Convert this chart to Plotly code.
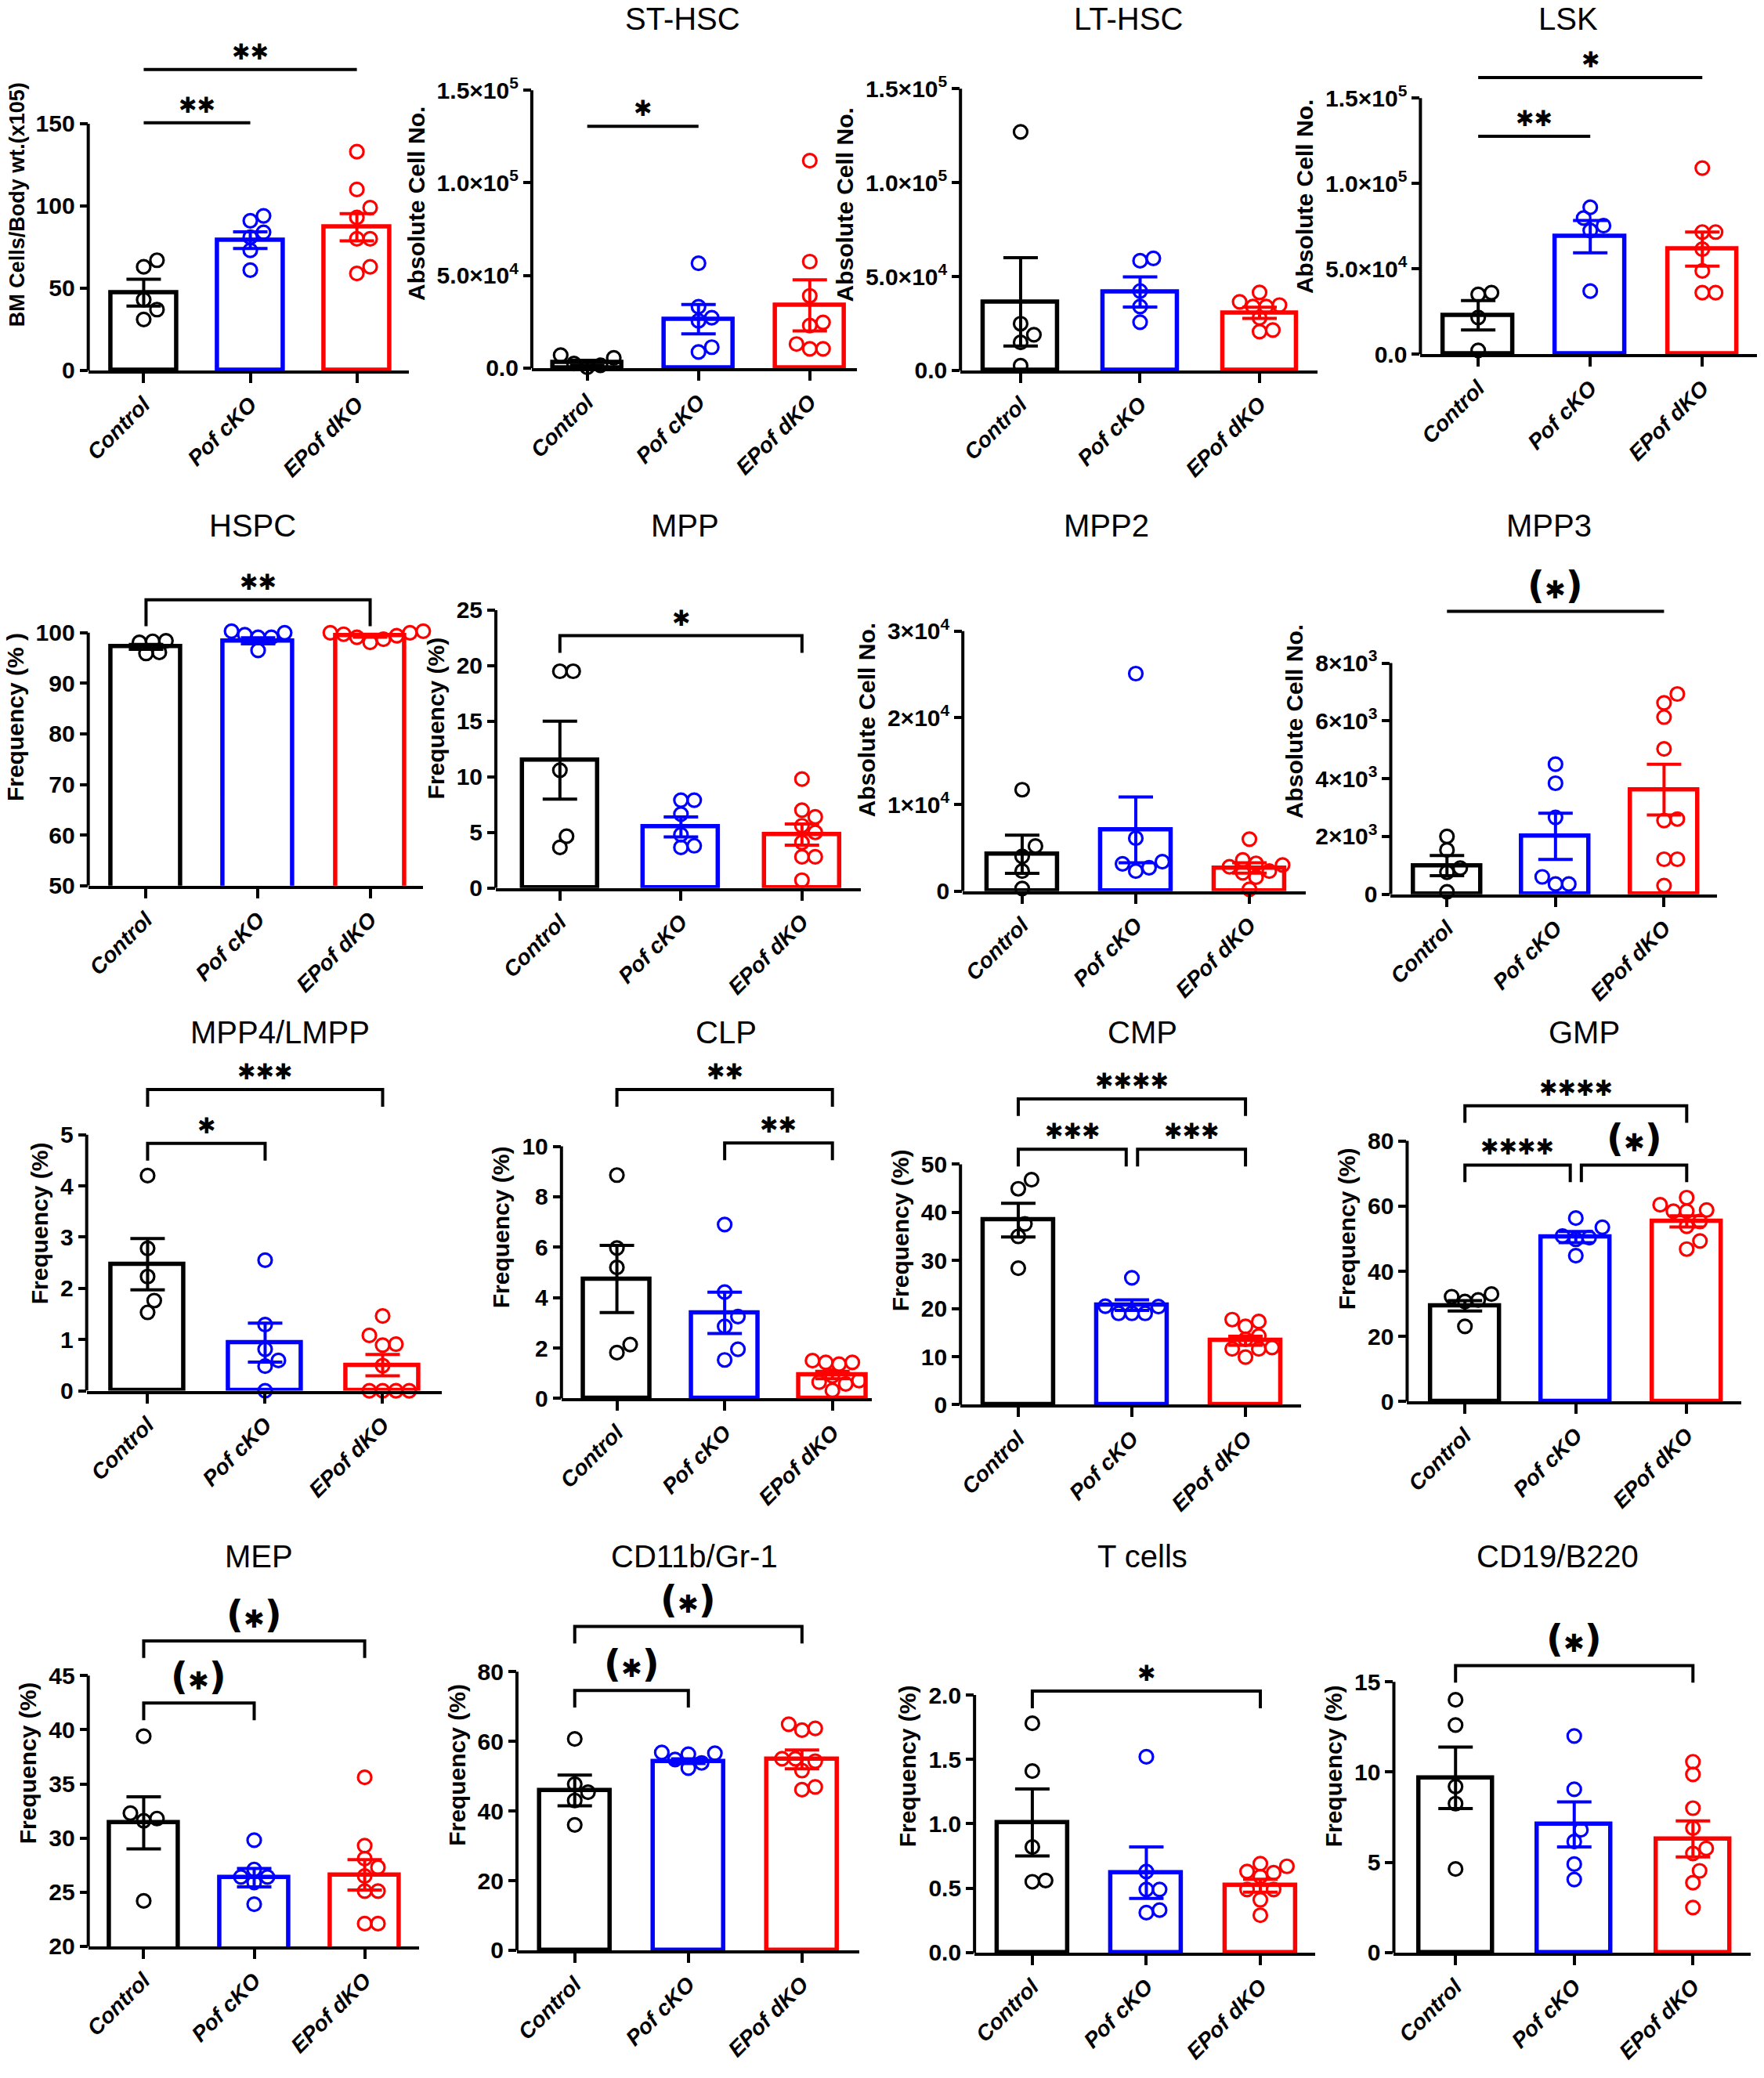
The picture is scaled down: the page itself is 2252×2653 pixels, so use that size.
import plotly.graph_objects as go

W, H = 2252, 2653
FONT = "Liberation Sans, Arial, sans-serif"
STAR_FONT = "DejaVu Sans, Liberation Sans, sans-serif"

groups = ["Control", "Pof cKO", "EPof dKO"]
colors = ["#000000", "#0000ff", "#ff0000"]

# ---- data ----
bm_ctrl = [63, 67, 43, 37, 31]
bm_pof = [91, 94, 81, 84, 73, 61]
bm_epof = [133, 110, 99, 93, 80, 80, 59, 63]
bm_mean = [47.3, 79.2, 87.1]
bm_sem = [8.2, 5.1, 8.3]

st_ctrl = [500, 7000, 2500, 5500, 1500]
st_pof = [56600, 33100, 27200, 25500, 8700, 11300]
st_epof = [112000, 57500, 39000, 24700, 23000, 10400, 13000, 10400]
st_mean = [2900, 26400, 33900]
st_sem = [1300, 7900, 13800]

lt_ctrl = [127000, 24900, 19000, 14900, 2500]
lt_pof = [58400, 59700, 42300, 34000, 25700]
lt_epof = [41500, 34000, 36500, 34000, 34800, 20700, 21500, 28000]
lt_mean = [36500, 41800, 30700]
lt_sem = [23500, 8000, 3000]

lsk_ctrl = [35000, 36000, 21400, 2200]
lsk_pof = [86000, 79700, 75200, 72400, 36900]
lsk_epof = [109000, 71500, 71500, 61500, 48700, 36000, 36000]
lsk_mean = [22800, 68800, 61500]
lsk_sem = [8600, 9500, 10000]

hspc_ctrl = [96.1, 98.3, 98.1, 98.4, 95.9]
hspc_pof = [99.1, 100.0, 99.1, 99.6, 100.3, 96.5]
hspc_epof = [99.4, 100.0, 100.0, 100.3, 99.7, 98.7, 98.1, 99.1]
hspc_mean = [97.2, 98.4, 99.4]
hspc_sem = [0.5, 0.6, 0.3]

mpp_ctrl = [19.5, 19.5, 10.6, 4.65, 3.65]
mpp_pof = [7.9, 7.9, 6.65, 4.8, 3.65, 3.8]
mpp_epof = [9.8, 7.0, 6.4, 5.6, 5.0, 4.1, 2.8, 2.8, 0.7]
mpp_mean = [11.5, 5.5, 4.8]
mpp_sem = [3.5, 0.9, 0.95]

mpp2_ctrl = [11700, 5200, 4000, 2300, 300]
mpp2_pof = [25100, 6100, 2300, 3400, 2700, 3150]
mpp2_epof = [6000, 3200, 2800, 3000, 3600, 2300, 2100, 1600, 200]
mpp2_mean = [4250, 7070, 2670]
mpp2_sem = [2200, 3800, 600]

mpp3_ctrl = [2000, 1530, 900, 760, 80]
mpp3_pof = [4500, 3840, 2660, 600, 350, 350]
mpp3_epof = [6930, 6620, 6130, 5030, 2600, 2550, 1210, 1210, 300]
mpp3_mean = [990, 2000, 3620]
mpp3_sem = [350, 800, 880]

mpp4_ctrl = [4.2, 2.78, 2.23, 1.76, 1.53]
mpp4_pof = [2.55, 1.29, 0.81, 0.59, 0.48, 0.0]
mpp4_epof = [1.46, 1.08, 0.91, 0.89, 0.49, 0.0, 0.0, 0.0, 0.0]
mpp4_mean = [2.47, 0.94, 0.5]
mpp4_sem = [0.5, 0.38, 0.21]

clp_ctrl = [8.86, 5.97, 5.2, 2.14, 1.82]
clp_pof = [6.9, 4.22, 3.25, 2.86, 1.95, 1.53]
clp_epof = [1.43, 1.5, 1.36, 1.43, 0.65, 0.9, 0.58, 0.71, 0.32]
clp_mean = [4.74, 3.4, 0.93]
clp_sem = [1.33, 0.82, 0.15]

cmp_ctrl = [46.8, 44.9, 37.6, 35.0, 28.4]
cmp_pof = [26.4, 19.0, 20.4, 19.0, 20.5, 19.0]
cmp_epof = [17.3, 17.7, 16.3, 14.3, 13.6, 11.6, 11.9, 11.6, 9.9]
cmp_mean = [38.4, 20.7, 13.3]
cmp_sem = [3.5, 1.1, 0.95]

gmp_ctrl = [33.0, 31.2, 30.7, 32.2, 23.1]
gmp_pof = [56.3, 53.5, 50.3, 50.8, 49.8, 44.8]
gmp_epof = [62.6, 60.4, 58.8, 58.4, 58.4, 55.3, 53.8, 49.3, 46.8]
gmp_mean = [29.4, 50.5, 55.3]
gmp_sem = [1.6, 1.7, 1.7]

mep_ctrl = [39.4, 32.3, 31.6, 31.8, 24.2]
mep_pof = [29.8, 26.4, 27.1, 26.4, 25.9, 23.9]
mep_epof = [35.6, 29.3, 28.1, 27.3, 26.5, 25.1, 25.1, 22.1, 22.1]
mep_mean = [31.4, 26.35, 26.6]
mep_sem = [2.4, 0.85, 1.4]

cd11_ctrl = [60.7, 47.7, 45.4, 43.0, 36.0]
cd11_pof = [54.8, 56.6, 53.8, 56.3, 56.8, 52.3]
cd11_epof = [63.7, 64.9, 63.2, 54.3, 55.0, 55.0, 46.1, 46.9, 51.6]
cd11_mean = [45.9, 54.3, 54.8]
cd11_sem = [4.4, 0.7, 2.7]

t_ctrl = [1.78, 1.41, 0.82, 0.55, 0.56]
t_pof = [1.52, 0.63, 0.49, 0.49, 0.31, 0.33]
t_epof = [0.69, 0.63, 0.67, 0.62, 0.59, 0.49, 0.49, 0.41, 0.29]
t_mean = [1.01, 0.62, 0.52]
t_sem = [0.26, 0.2, 0.05]

cd19_ctrl = [14.0, 12.6, 9.2, 8.25, 4.63]
cd19_pof = [12.0, 9.05, 6.8, 6.15, 4.9, 4.05]
cd19_epof = [10.57, 9.87, 8.0, 6.9, 5.77, 5.49, 4.53, 3.87, 2.5]
cd19_mean = [9.68, 7.1, 6.3]
cd19_sem = [1.7, 1.25, 1.0]

# tick values / labels
bm_ticks = [0, 50, 100, 150]
hsc_ticks = [0, 50000, 100000, 150000]
hsc_text = ["0.0", "5.0×10<sup>4</sup>", "1.0×10<sup>5</sup>", "1.5×10<sup>5</sup>"]
hspc_ticks = [50, 60, 70, 80, 90, 100]
mpp_ticks = [0, 5, 10, 15, 20, 25]
mpp2_ticks = [0, 10000, 20000, 30000]
mpp2_text = ["0", "1×10<sup>4</sup>", "2×10<sup>4</sup>", "3×10<sup>4</sup>"]
mpp3_ticks = [0, 2000, 4000, 6000, 8000]
mpp3_text = ["0", "2×10<sup>3</sup>", "4×10<sup>3</sup>", "6×10<sup>3</sup>", "8×10<sup>3</sup>"]
mpp4_ticks = [0, 1, 2, 3, 4, 5]
clp_ticks = [0, 2, 4, 6, 8, 10]
cmp_ticks = [0, 10, 20, 30, 40, 50]
gmp_ticks = [0, 20, 40, 60, 80]
mep_ticks = [20, 25, 30, 35, 40, 45]
cd11_ticks = [0, 20, 40, 60, 80]
t_ticks = [0, 0.5, 1.0, 1.5, 2.0]
t_text = ["0.0", "0.5", "1.0", "1.5", "2.0"]
cd19_ticks = [0, 5, 10, 15]

# significance brackets: (from group, to group, height, label, end ticks)
bm_sig = [(0, 1, 150.6, "**", False), (0, 2, 183, "**", False)]
st_sig = [(0, 1, 130600, "*", False)]
lsk_sig = [(0, 1, 127600, "**", False), (0, 2, 162000, "*", False)]
hspc_sig = [(0, 2, 106.5, "**", True)]
mpp_sig = [(0, 2, 22.7, "*", True)]
mpp3_sig = [(0, 2, 9790, "(*)", False)]
mpp4_sig = [(0, 1, 4.83, "*", True), (0, 2, 5.88, "***", True)]
clp_sig = [(0, 2, 12.25, "**", True), (1, 2, 10.13, "**", True)]
cmp_sig = [(0, 2, 63.6, "****", True), (0, 1, 53.1, "***", True), (1, 2, 53.1, "***", True)]
gmp_sig = [(0, 2, 90.8, "****", True), (0, 1, 72.6, "****", True), (1, 2, 72.6, "(*)", True)]
mep_sig = [(0, 1, 42.46, "(*)", True), (0, 2, 48.2, "(*)", True)]
cd11_sig = [(0, 1, 74.6, "(*)", True), (0, 2, 93.0, "(*)", True)]
t_sig = [(0, 2, 2.03, "*", True)]
cd19_sig = [(0, 2, 15.9, "(*)", True)]

ABS = "Absolute Cell No."
FREQ = "Frequency (%)"

# panel geometry in page pixels: y-axis x, x-axis end, first/last category x, top tick y, bottom y
panels = [
    dict(title="", ytitle="BM Cells/Body wt.(x105)", yts=27, row=0, geom=(106, 517, 177, 450, 159, 476), tx=0,
         vals=(bm_ctrl, bm_pof, bm_epof), mean=bm_mean, sem=bm_sem, ticks=bm_ticks, text=None, sig=bm_sig),
    dict(title="ST-HSC", ytitle=ABS, row=0, geom=(674, 1090, 745, 1030, 116, 473), tx=867,
         vals=(st_ctrl, st_pof, st_epof), mean=st_mean, sem=st_sem, ticks=hsc_ticks, text=hsc_text, sig=st_sig),
    dict(title="LT-HSC", ytitle=ABS, row=0, geom=(1223, 1680, 1300, 1606, 114, 476), tx=1438,
         vals=(lt_ctrl, lt_pof, lt_epof), mean=lt_mean, sem=lt_sem, ticks=hsc_ticks, text=hsc_text, sig=[]),
    dict(title="LSK", ytitle=ABS, row=0, geom=(1812, 2243, 1886, 2173, 126, 455), tx=2001,
         vals=(lsk_ctrl, lsk_pof, lsk_epof), mean=lsk_mean, sem=lsk_sem, ticks=hsc_ticks, text=hsc_text, sig=lsk_sig),
    dict(title="HSPC", ytitle="Frequency (% )", row=1, geom=(106, 535, 180, 467, 813, 1138), tx=316, drop=34,
         vals=(hspc_ctrl, hspc_pof, hspc_epof), mean=hspc_mean, sem=hspc_sem, ticks=hspc_ticks, text=None, sig=hspc_sig),
    dict(title="MPP", ytitle=FREQ, row=1, geom=(628, 1095, 710, 1020, 784, 1141), tx=870,
         vals=(mpp_ctrl, mpp_pof, mpp_epof), mean=mpp_mean, sem=mpp_sem, ticks=mpp_ticks, text=None, sig=mpp_sig),
    dict(title="MPP2", ytitle=ABS, row=1, geom=(1226, 1665, 1302, 1593, 811, 1145), tx=1410,
         vals=(mpp2_ctrl, mpp2_pof, mpp2_epof), mean=mpp2_mean, sem=mpp2_sem, ticks=mpp2_ticks, text=mpp2_text, sig=[]),
    dict(title="MPP3", ytitle=ABS, row=1, geom=(1774, 2192, 1846, 2124, 852, 1149), tx=1977,
         vals=(mpp3_ctrl, mpp3_pof, mpp3_epof), mean=mpp3_mean, sem=mpp3_sem, ticks=mpp3_ticks, text=mpp3_text, sig=mpp3_sig),
    dict(title="MPP4/LMPP", ytitle=FREQ, row=2, geom=(104, 559, 182, 483, 1458, 1787), tx=352,
         vals=(mpp4_ctrl, mpp4_pof, mpp4_epof), mean=mpp4_mean, sem=mpp4_sem, ticks=mpp4_ticks, text=None, sig=mpp4_sig),
    dict(title="CLP", ytitle=FREQ, row=2, geom=(712, 1109, 783, 1059, 1473, 1797), tx=923,
         vals=(clp_ctrl, clp_pof, clp_epof), mean=clp_mean, sem=clp_sem, ticks=clp_ticks, text=None, sig=clp_sig),
    dict(title="CMP", ytitle=FREQ, row=2, geom=(1223, 1659, 1297, 1588, 1496, 1805), tx=1456,
         vals=(cmp_ctrl, cmp_pof, cmp_epof), mean=cmp_mean, sem=cmp_sem, ticks=cmp_ticks, text=None, sig=cmp_sig),
    dict(title="GMP", ytitle=FREQ, row=2, geom=(1795, 2223, 1869, 2153, 1466, 1801), tx=2022,
         vals=(gmp_ctrl, gmp_pof, gmp_epof), mean=gmp_mean, sem=gmp_sem, ticks=gmp_ticks, text=None, sig=gmp_sig),
    dict(title="MEP", ytitle=FREQ, row=3, geom=(106, 530, 177, 460, 2153, 2501), tx=325,
         vals=(mep_ctrl, mep_pof, mep_epof), mean=mep_mean, sem=mep_sem, ticks=mep_ticks, text=None, sig=mep_sig),
    dict(title="CD11b/Gr-1", ytitle=FREQ, row=3, geom=(655, 1093, 729, 1020, 2148, 2506), tx=882,
         vals=(cd11_ctrl, cd11_pof, cd11_epof), mean=cd11_mean, sem=cd11_sem, ticks=cd11_ticks, text=None, sig=cd11_sig),
    dict(title="T cells", ytitle=FREQ, row=3, geom=(1241, 1677, 1315, 1607, 2178, 2509), tx=1456,
         vals=(t_ctrl, t_pof, t_epof), mean=t_mean, sem=t_sem, ticks=t_ticks, text=t_text, sig=t_sig),
    dict(title="CD19/B220", ytitle=FREQ, row=3, geom=(1778, 2235, 1857, 2161, 2161, 2509), tx=1988,
         vals=(cd19_ctrl, cd19_pof, cd19_epof), mean=cd19_mean, sem=cd19_sem, ticks=cd19_ticks, text=None, sig=cd19_sig),
]

title_y = [24, 675, 1327, 2000]
row_top = [50, 705, 1357, 2030]


def swarm(vals, ppu, ppc, d=17):
    # spread points sideways so the circles don't sit on top of each other
    placed = []
    offs = [0.0] * len(vals)
    cands = sorted([i * d * 0.5 for i in range(-10, 11)], key=lambda c: (abs(c), -c))
    for k in sorted(range(len(vals)), key=lambda k: vals[k]):
        yk = vals[k] * ppu
        for c in cands:
            if all((c - px) ** 2 + (yk - py) ** 2 >= (0.95 * d) ** 2 for px, py in placed):
                break
        placed.append((c, yk))
        offs[k] = c / ppc
    return offs


def star_text(label):
    # GraphPad style heavy asterisks, taller parentheses
    s = label.replace("*", "\u2731")
    if "(" in s:
        s = ("<span style='font-size:48px'>(</span><span style='font-size:32px'>\u2731</span>"
             "<span style='font-size:48px'>)</span>")
    return s


fig = go.Figure()

for n, p in enumerate(panels, start=1):
    sfx = "" if n == 1 else str(n)
    xa, ya = "x" + sfx, "y" + sfx
    ax, end, c0, c2, ytop, ybot = p["geom"]
    top = row_top[p["row"]]
    sp = (c2 - c0) / 2
    lo, hi = p["ticks"][0], p["ticks"][-1]
    upp = (hi - lo) / (ybot - ytop)

    fig.update_layout(**{
        "xaxis" + sfx: dict(domain=[ax / W, end / W], range=[-(c0 - ax) / sp, 2 + (end - c2) / sp],
                            anchor=ya, tickvals=[0, 1, 2], ticktext=groups, tickangle=-45,
                            tickfont=dict(family=FONT, size=28, weight="bold", style="italic", color="black"),
                            showline=True, linewidth=4, linecolor="black", ticks="outside",
                            ticklen=12, tickwidth=4, tickcolor="black", showgrid=False, zeroline=False),
        "yaxis" + sfx: dict(domain=[1 - ybot / H, 1 - top / H], range=[lo, lo + upp * (ybot - top)],
                            anchor=xa, tickvals=p["ticks"], ticktext=p["text"] or [str(v) for v in p["ticks"]],
                            tickfont=dict(family=FONT, size=30, weight="bold", color="black"),
                            showline=False, ticks="outside", ticklen=10, tickwidth=4, tickcolor="black",
                            showgrid=False, zeroline=False,
                            title=dict(text=p["ytitle"], standoff=6,
                                       font=dict(family=FONT, size=p.get("yts", 30), weight="bold", color="black"))),
    })

    # y axis line only up to the last tick
    fig.add_shape(type="line", xref=xa + " domain", yref=ya, x0=0, x1=0, y0=lo, y1=hi,
                  line=dict(color="black", width=4))

    fig.add_trace(go.Bar(x=[0, 1, 2], y=p["mean"], width=0.62, xaxis=xa, yaxis=ya,
                         marker=dict(color="rgba(0,0,0,0)", line=dict(color=colors, width=5.5))))

    for g in range(3):
        vals = p["vals"][g]
        offs = swarm(vals, 1 / upp, sp)
        fig.add_trace(go.Scatter(x=[g + o for o in offs], y=vals, mode="markers", xaxis=xa, yaxis=ya,
                                 cliponaxis=False,
                                 marker=dict(symbol="circle-open", size=17, color=colors[g],
                                             line=dict(color=colors[g], width=3.2))))
        fig.add_trace(go.Scatter(x=[g], y=[p["mean"][g]], mode="markers", xaxis=xa, yaxis=ya,
                                 cliponaxis=False, marker=dict(size=1, color="rgba(0,0,0,0)"),
                                 error_y=dict(type="data", array=[p["sem"][g]], color=colors[g],
                                              thickness=4, width=22)))

    for (i, j, yv, label, tick) in p["sig"]:
        x0 = i + (0.05 if any(b[1] == i and b[2] == yv for b in p["sig"]) else 0)
        x1 = j - (0.05 if any(b[0] == j and b[2] == yv for b in p["sig"]) else 0)
        if tick:
            dv = p.get("drop", 22) * upp
            path = f"M {x0},{yv - dv} L {x0},{yv} L {x1},{yv} L {x1},{yv - dv}"
            fig.add_shape(type="path", path=path, xref=xa, yref=ya, line=dict(color="black", width=4))
        else:
            fig.add_shape(type="line", x0=x0, x1=x1, y0=yv, y1=yv, xref=xa, yref=ya,
                          line=dict(color="black", width=4))
        fig.add_annotation(x=(x0 + x1) / 2, y=yv, xref=xa, yref=ya, text=star_text(label), showarrow=False,
                           xanchor="center", yanchor="bottom", yshift=4,
                           font=dict(family=STAR_FONT, size=28, weight="bold", color="black"))

    if p["title"]:
        fig.add_annotation(x=p["tx"] / W, y=1 - title_y[p["row"]] / H, xref="paper", yref="paper",
                           text=p["title"], showarrow=False, xanchor="center", yanchor="middle",
                           font=dict(family=FONT, size=40, color="black"))

fig.update_layout(width=W, height=H, margin=dict(l=0, r=0, t=0, b=0), showlegend=False,
                  plot_bgcolor="white", paper_bgcolor="white", bargap=0)

fig.write_html("out.html", config={"displayModeBar": False},
               post_script="document.body.style.margin='0px';")
